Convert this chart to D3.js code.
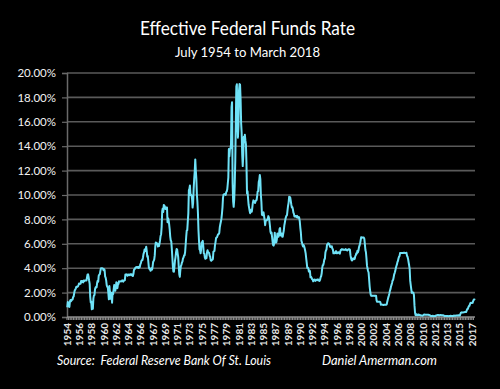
<!DOCTYPE html>
<html><head><meta charset="utf-8">
<script src="https://cdn.jsdelivr.net/npm/d3@7"></script>
<style>html,body{margin:0;padding:0;background:#000;}svg{display:block;}</style>
</head><body>
<svg id="chart" width="500" height="389"></svg>
<script>
// Monthly effective federal funds rate (%), starting July 1954
const startYear = 1954, startMonth = 7;
const rates1950s = [
 0.80,1.22,1.07,0.85,0.83,1.28,
 1.39,1.29,1.35,1.43,1.43,1.64,1.68,1.96,2.18,2.24,2.35,2.48,
 2.45,2.50,2.50,2.62,2.75,2.71,2.75,2.73,2.95,2.96,2.88,2.94,
 2.84,3.00,2.96,3.00,3.00,3.00,2.99,3.24,3.47,3.50,3.28,2.98,
 2.72,1.67,1.20,1.26,0.63,0.93,0.68,1.53,1.76,1.80,2.27,2.42,
 2.48,2.43,2.80,2.96,2.90,3.39,3.47,3.50,3.76,3.98,4.00,3.99];
const rates1960s = [
 3.99,3.97,3.84,3.92,3.85,3.32,3.23,2.98,2.60,2.47,2.44,1.98,
 1.45,2.54,2.02,1.49,1.98,1.73,1.17,2.00,1.88,2.26,2.62,2.33,
 2.15,2.37,2.85,2.78,2.36,2.68,2.71,2.93,2.90,2.90,2.94,2.93,
 2.92,3.00,2.98,2.90,3.00,2.99,3.02,3.49,3.48,3.50,3.48,3.38,
 3.48,3.48,3.43,3.47,3.50,3.50,3.42,3.50,3.45,3.36,3.52,3.85,
 3.90,3.98,4.04,4.09,4.10,4.04,4.09,4.12,4.01,4.08,4.10,4.32,
 4.42,4.60,4.65,4.67,4.90,5.17,5.30,5.53,5.40,5.53,5.76,5.40,
 4.94,5.00,4.53,4.05,3.94,3.98,3.79,3.90,3.99,3.88,4.13,4.51,
 4.60,4.71,5.05,5.76,6.11,6.07,6.02,6.03,5.78,5.91,5.82,6.02,
 6.30,6.64,6.79,7.41,8.67,8.90,8.61,9.19,9.15,9.00,8.85,8.97];
const rates1970s = [
 8.98,8.98,7.76,8.10,7.95,7.61,7.21,6.61,6.29,6.20,5.60,4.90,
 4.14,3.72,3.71,4.16,4.63,4.91,5.31,5.57,5.55,5.20,4.91,4.14,
 3.50,3.29,3.83,4.17,4.27,4.46,4.55,4.80,4.87,5.04,5.06,5.33,
 5.94,6.58,7.09,7.12,7.84,8.49,10.40,10.50,10.78,10.01,10.03,9.95,
 9.65,8.97,9.35,10.51,11.31,11.93,12.92,12.01,11.34,10.06,9.45,8.53,
 7.13,6.24,5.54,5.49,5.22,5.55,6.10,6.14,6.24,5.82,5.22,5.20,
 4.87,4.77,4.84,4.82,5.29,5.48,5.31,5.29,5.25,5.02,4.95,4.65,
 4.61,4.68,4.69,4.73,5.35,5.39,5.42,5.90,6.14,6.47,6.51,6.56,
 6.70,6.78,6.79,6.89,7.36,7.60,7.81,8.04,8.45,8.96,9.76,10.03,
 10.07,10.06,10.09,10.01,10.24,10.29,10.47,10.94,11.43,13.77,13.18,13.78];
const rates1980s = [
 13.82,14.13,17.19,17.61,10.98,9.47,9.03,9.61,10.87,12.81,15.85,18.90,
 19.08,15.93,14.70,15.72,18.52,19.10,19.04,17.82,15.87,15.08,13.31,12.37,
 13.22,14.78,14.68,14.94,14.45,14.15,12.59,10.12,10.31,9.71,9.20,8.95,
 8.68,8.51,8.77,8.80,8.63,8.98,9.37,9.56,9.45,9.48,9.34,9.47,
 9.56,9.59,9.91,10.29,10.32,11.06,11.23,11.64,11.30,9.99,9.43,8.38,
 8.35,8.50,8.58,8.27,7.97,7.53,7.88,7.90,7.92,7.99,8.05,8.27,
 8.14,7.86,7.48,6.99,6.85,6.92,6.56,6.17,5.89,5.85,6.04,6.91,
 6.43,6.10,6.13,6.37,6.85,6.73,6.58,6.73,7.22,7.29,6.69,6.77,
 6.83,6.58,6.58,6.87,7.09,7.51,7.75,8.01,8.19,8.30,8.35,8.76,
 9.12,9.36,9.85,9.84,9.81,9.53,9.24,8.99,9.02,8.84,8.55,8.45];
const rates1990s = [
 8.23,8.24,8.28,8.26,8.18,8.29,8.15,8.13,8.20,8.11,7.81,7.31,
 6.91,6.25,6.12,5.91,5.78,5.90,5.82,5.66,5.45,5.21,4.81,4.43,
 4.03,4.06,3.98,3.73,3.82,3.76,3.25,3.30,3.22,3.10,3.09,2.92,
 3.02,3.03,3.07,2.96,3.00,3.04,3.06,3.03,3.09,2.99,3.02,2.96,
 3.05,3.25,3.34,3.56,4.01,4.25,4.26,4.47,4.73,4.76,5.29,5.45,
 5.53,5.92,5.98,6.05,6.01,6.00,5.85,5.74,5.80,5.76,5.80,5.60,
 5.56,5.22,5.31,5.22,5.24,5.27,5.40,5.22,5.30,5.24,5.31,5.29,
 5.25,5.19,5.39,5.51,5.50,5.56,5.52,5.54,5.54,5.50,5.52,5.50,
 5.56,5.51,5.49,5.45,5.49,5.56,5.54,5.55,5.51,5.07,4.83,4.68,
 4.63,4.76,4.81,4.74,4.74,4.76,4.99,5.07,5.22,5.20,5.42,5.30];
const rates2000s = [
 5.45,5.73,5.85,6.02,6.27,6.53,6.54,6.50,6.52,6.51,6.51,6.40,
 5.98,5.49,5.31,4.80,4.21,3.97,3.77,3.65,3.07,2.49,2.09,1.82,
 1.73,1.74,1.73,1.75,1.75,1.75,1.73,1.74,1.75,1.75,1.34,1.24,
 1.24,1.26,1.25,1.26,1.26,1.22,1.01,1.03,1.01,1.01,1.00,0.98,
 1.00,1.01,1.00,1.00,1.00,1.03,1.26,1.43,1.61,1.76,1.93,2.16,
 2.28,2.50,2.63,2.79,3.00,3.04,3.26,3.50,3.62,3.78,4.00,4.16,
 4.29,4.49,4.59,4.79,4.94,4.99,5.24,5.25,5.25,5.25,5.25,5.24,
 5.25,5.26,5.26,5.25,5.25,5.25,5.26,5.02,4.94,4.76,4.49,4.24,
 3.94,2.98,2.61,2.28,1.98,2.00,2.01,2.00,1.81,0.97,0.39,0.16,
 0.15,0.22,0.18,0.15,0.18,0.21,0.16,0.16,0.15,0.12,0.12,0.12];
const rates2010s = [
 0.11,0.13,0.16,0.20,0.20,0.18,0.18,0.19,0.19,0.19,0.19,0.18,
 0.17,0.16,0.14,0.10,0.09,0.09,0.07,0.10,0.08,0.07,0.08,0.07,
 0.08,0.10,0.13,0.14,0.16,0.16,0.16,0.13,0.14,0.16,0.16,0.16,
 0.14,0.15,0.14,0.15,0.11,0.09,0.09,0.08,0.08,0.09,0.08,0.09,
 0.07,0.07,0.08,0.09,0.09,0.10,0.09,0.09,0.09,0.09,0.09,0.12,
 0.11,0.11,0.11,0.12,0.12,0.13,0.13,0.14,0.14,0.12,0.12,0.24,
 0.34,0.38,0.36,0.37,0.37,0.38,0.39,0.40,0.40,0.40,0.41,0.54,
 0.65,0.66,0.79,0.90,0.91,1.04,1.15,1.16,1.15,1.15,1.16,1.30,
 1.41,1.42,1.51];

// Category labels shown on x axis (every 23rd month)
const tickYears = ["1954","1956","1958","1960","1962","1964","1966","1967","1969","1971",
 "1973","1975","1977","1979","1981","1983","1985","1987","1989","1990","1992","1994",
 "1996","1998","2000","2002","2004","2006","2008","2010","2012","2013","2015","2017"];
const labelStep = 23;
const yTicks = [0,2,4,6,8,10,12,14,16,18,20];

const titleText = "Effective Federal Funds Rate";
const subtitleText = "July 1954 to March 2018";
const sourceText = "Source:  Federal Reserve Bank Of St. Louis";
const creditText = "Daniel Amerman.com";

(function draw() {
const rates = [].concat(rates1950s, rates1960s, rates1970s, rates1980s, rates1990s, rates2000s, rates2010s);
const n = rates.length;

const svg = d3.select("#chart");
svg.append("rect").attr("width",500).attr("height",389).attr("fill","#000");

const pL = 67, pR = 475, pT = 73, pB = 317;
const x = d3.scaleLinear().domain([0, n]).range([pL, pR]);
const y = d3.scaleLinear().domain([0, 20]).range([pB, pT]);
const font = "Lato, 'Open Sans', sans-serif";

// gridlines
svg.append("g").selectAll("line").data(yTicks.filter(d=>d>0)).join("line")
  .attr("x1", pL).attr("x2", pR)
  .attr("y1", d=>y(d)).attr("y2", d=>y(d))
  .attr("stroke", "#5a5a5a").attr("stroke-width", 1.6);

// y axis
const yAxis = d3.axisLeft(y).tickValues(yTicks).tickSize(5).tickPadding(6)
  .tickFormat(d => d3.format(".2f")(d) + "%");
const gy = svg.append("g").attr("transform", `translate(${pL},0)`).call(yAxis);
gy.select(".domain").attr("stroke", "#6a6a6a").attr("stroke-width", 1.5);
gy.selectAll(".tick line").attr("stroke", "#6a6a6a").attr("stroke-width", 1.2);
gy.selectAll("text").attr("fill", "#f2f2f2").attr("font-family", font).attr("font-size", 11.5);

// x axis band (dense category ticks)
const tickIdx = d3.range(0, n, 3);
svg.append("g").selectAll("line").data(tickIdx).join("line")
  .attr("x1", d=>x(d)).attr("x2", d=>x(d)).attr("y1", pB).attr("y2", pB+3)
  .attr("stroke", "#8c8c8c").attr("stroke-width", 1.2);
svg.append("line").attr("x1", pL).attr("x2", pR).attr("y1", pB).attr("y2", pB)
  .attr("stroke", "#8c8c8c").attr("stroke-width", 1.5);

// x labels
svg.append("g").selectAll("text").data(tickYears).join("text")
  .attr("transform", (d,i) => `translate(${x(i*labelStep + 0.5) + 3.5},${pB + 6}) rotate(-90)`)
  .attr("text-anchor", "end")
  .attr("fill", "#e8e8e8").attr("font-family", font).attr("font-size", 10).attr("font-weight", 700)
  .text(d => d);

// line
const line = d3.line().x((d,i) => x(i + 0.5)).y(d => y(d));
svg.append("path").datum(rates).attr("d", line)
  .attr("fill", "none").attr("stroke", "#6fe2f7").attr("stroke-width", 2).attr("stroke-linejoin","round");

// titles
svg.append("text").attr("x", 247.5).attr("y", 35).attr("text-anchor", "middle")
  .attr("fill", "#fff").attr("font-family", font).attr("font-size", 18.5)
  .attr("textLength", 215).attr("lengthAdjust", "spacingAndGlyphs").text(titleText);
svg.append("text").attr("x", 247.5).attr("y", 57).attr("text-anchor", "middle")
  .attr("fill", "#fff").attr("font-family", font).attr("font-size", 14)
  .attr("textLength", 145).attr("lengthAdjust", "spacingAndGlyphs").text(subtitleText);

svg.append("text").attr("x", 57).attr("y", 365)
  .attr("fill", "#fff").attr("font-family", font).attr("font-size", 13.5).attr("font-style", "italic")
  .attr("xml:space","preserve")
  .attr("textLength", 214).attr("lengthAdjust", "spacingAndGlyphs").text(sourceText);
svg.append("text").attr("x", 322).attr("y", 365)
  .attr("fill", "#fff").attr("font-family", font).attr("font-size", 13.5).attr("font-style", "italic")
  .attr("textLength", 115).attr("lengthAdjust", "spacingAndGlyphs").text(creditText);
})();
</script>
</body></html>
